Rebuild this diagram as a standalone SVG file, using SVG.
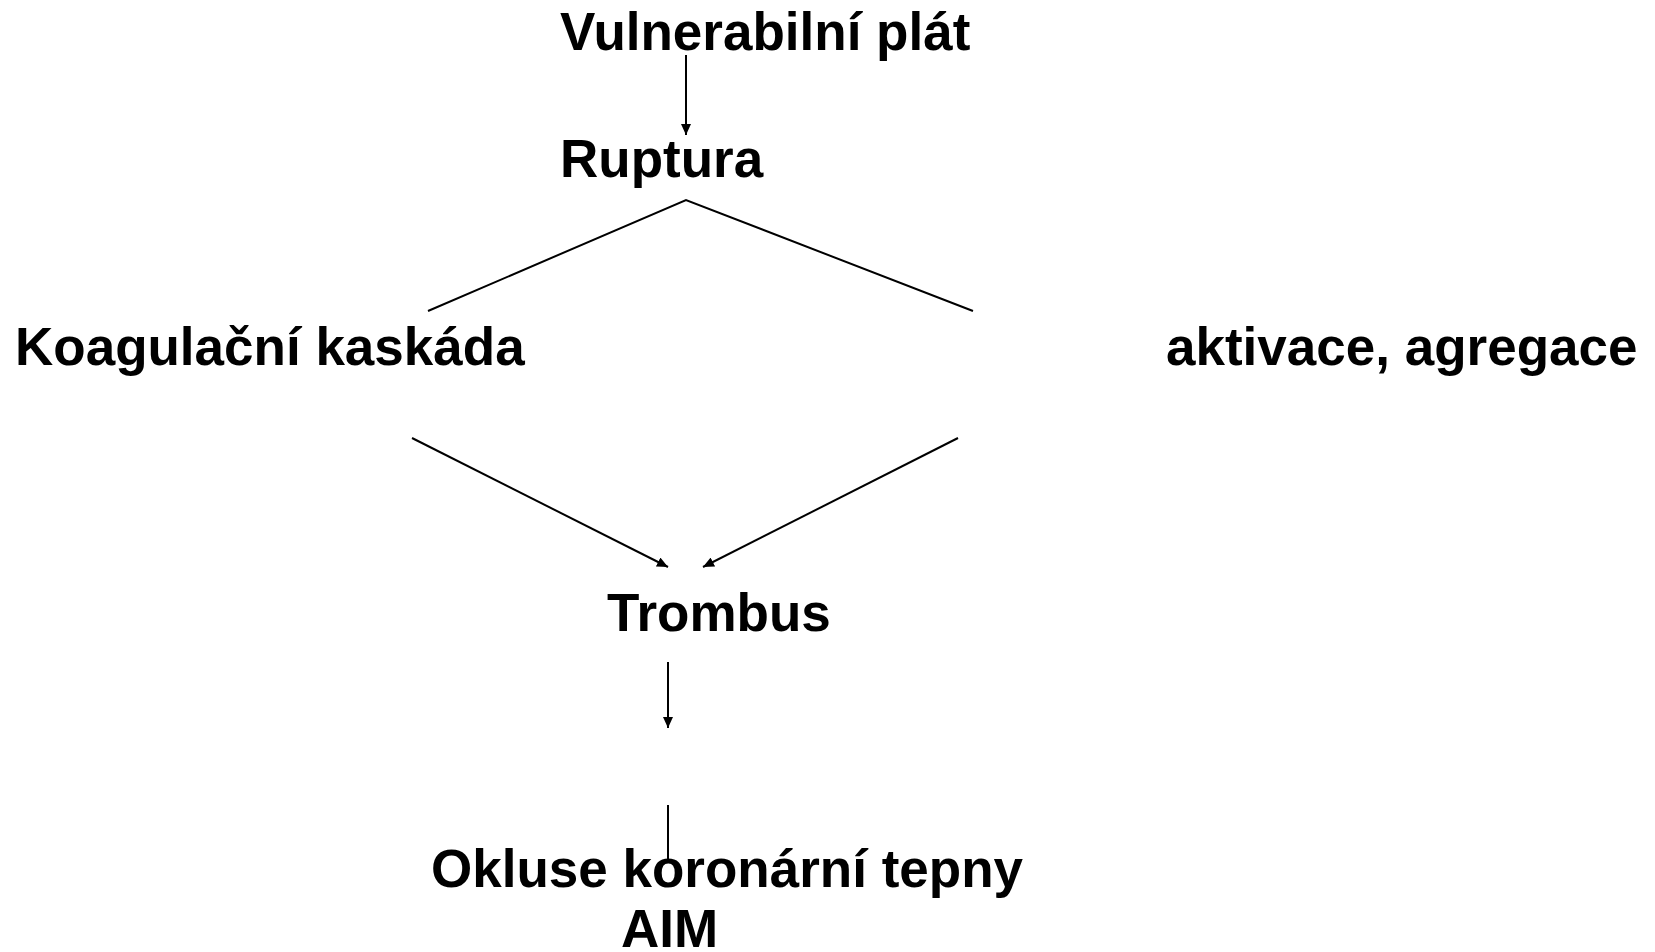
<svg xmlns="http://www.w3.org/2000/svg" width="1655" height="952" viewBox="0 0 1655 952">
<style>
text{font-family:"Liberation Sans",Arial,sans-serif;font-weight:bold;font-size:53px;fill:#000}
.c{stroke:#000;stroke-width:2;fill:none}
</style>
<defs>
<marker id="ah" markerUnits="userSpaceOnUse" markerWidth="12" markerHeight="10" refX="11" refY="5" orient="auto">
<path d="M0,0 L11,5 L0,10 Z" fill="#000"/>
</marker>
</defs>
<rect width="1655" height="952" fill="#fff"/>
<g id="connectors">
<line class="c" x1="686" y1="55" x2="686" y2="135" marker-end="url(#ah)"/>
<polyline class="c" points="428,311 686,200 973,311"/>
<line class="c" x1="412" y1="438" x2="668" y2="567" marker-end="url(#ah)"/>
<line class="c" x1="958" y1="438" x2="703" y2="567" marker-end="url(#ah)"/>
<line class="c" x1="668" y1="662" x2="668" y2="728" marker-end="url(#ah)"/>
<line class="c" x1="668" y1="805" x2="668" y2="860"/>
</g>
<g id="n-vulnerabilni"><text x="560" y="50">Vulnerabilní plát</text></g>
<g id="n-ruptura"><text x="560" y="177">Ruptura</text></g>
<g id="n-koagulacni"><text x="15" y="365">Koagulační kaskáda</text></g>
<g id="n-aktivace"><text x="1166" y="365">aktivace, agregace</text></g>
<g id="n-trombus"><text x="607" y="631">Trombus</text></g>
<g id="n-okluse"><text x="431" y="887">Okluse koronární tepny</text><text x="621" y="947">AIM</text></g>
</svg>
